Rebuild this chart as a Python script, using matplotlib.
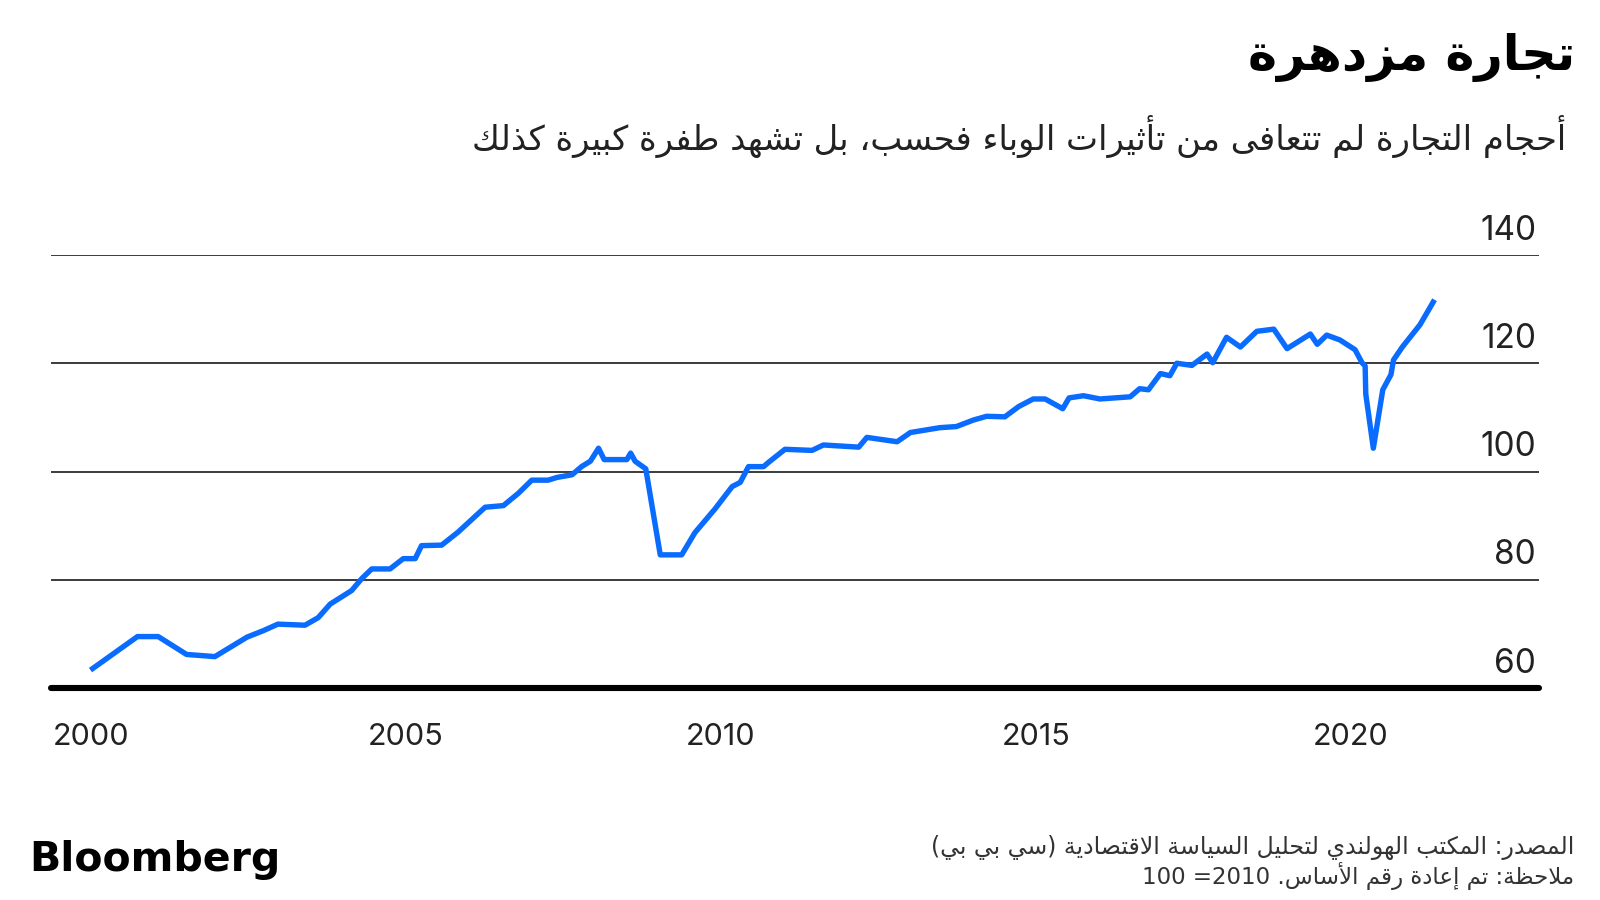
import matplotlib
matplotlib.use('Agg')
import matplotlib.pyplot as plt

# world trade volume index (2010 = 100), decimal years
years = [2000.03, 2000.74, 2001.07, 2001.52, 2001.97, 2002.48, 2002.74, 2002.97,
         2003.40, 2003.61, 2003.80, 2004.14, 2004.30, 2004.46, 2004.75, 2004.96,
         2005.15, 2005.25, 2005.57, 2005.83, 2006.26, 2006.55, 2006.79, 2007.00,
         2007.26, 2007.40, 2007.64, 2007.79, 2007.93, 2008.06, 2008.15, 2008.51,
         2008.57, 2008.64, 2008.81, 2009.04, 2009.38, 2009.59, 2009.91, 2010.18,
         2010.31, 2010.44, 2010.68, 2010.76, 2011.02, 2011.45, 2011.63, 2012.19,
         2012.32, 2012.80, 2013.01, 2013.48, 2013.74, 2014.01, 2014.22, 2014.51,
         2014.73, 2014.96, 2015.15, 2015.43, 2015.53, 2015.76, 2016.02, 2016.50,
         2016.65, 2016.79, 2016.98, 2017.13, 2017.24, 2017.48, 2017.72, 2017.81,
         2018.03, 2018.25, 2018.51, 2018.78, 2018.99, 2019.36, 2019.47, 2019.62,
         2019.83, 2020.07, 2020.18, 2020.23, 2020.24, 2020.36, 2020.51, 2020.64,
         2020.68, 2020.82, 2021.10, 2021.31]
values = [63.6, 69.5, 69.5, 66.2, 65.8, 69.4, 70.6, 71.8,
          71.6, 73.0, 75.5, 78.0, 80.2, 82.0, 82.0, 83.9,
          83.9, 86.3, 86.4, 88.8, 93.4, 93.7, 96.0, 98.4,
          98.4, 98.9, 99.4, 100.9, 101.9, 104.3, 102.2, 102.2,
          103.4, 101.9, 100.5, 84.6, 84.6, 88.7, 93.1, 97.2,
          98.0, 100.9, 100.9, 101.7, 104.1, 103.9, 104.9, 104.5,
          106.3, 105.5, 107.2, 108.1, 108.3, 109.5, 110.2, 110.1,
          112.0, 113.4, 113.4, 111.6, 113.6, 114.0, 113.4, 113.8,
          115.3, 115.1, 118.1, 117.7, 120.0, 119.6, 121.7, 120.1,
          124.8, 123.0, 125.9, 126.3, 122.7, 125.4, 123.5, 125.2,
          124.3, 122.5, 120.1, 119.5, 114.3, 104.3, 115.1, 117.9,
          120.6, 123.0, 127.1, 131.3]

x_ticks = [2000, 2005, 2010, 2015, 2020]
y_ticks = [60, 80, 100, 120, 140]

title = 'تجارة مزدهرة'
subtitle = 'أحجام التجارة لم تتعافى من تأثيرات الوباء فحسب، بل تشهد طفرة كبيرة كذلك'
source = 'المصدر: المكتب الهولندي لتحليل السياسة الاقتصادية (سي بي بي)'
note = 'ملاحظة: تم إعادة رقم الأساس. 2010= 100'

# matplotlib does no Arabic shaping, so map letters to presentation forms by hand
# base = isolated form; final +1, initial +2, medial +3
dual = {'ئ': 0xFE89, 'ب': 0xFE8F, 'ت': 0xFE95, 'ث': 0xFE99, 'ج': 0xFE9D,
        'ح': 0xFEA1, 'خ': 0xFEA5, 'س': 0xFEB1, 'ش': 0xFEB5, 'ص': 0xFEB9,
        'ض': 0xFEBD, 'ط': 0xFEC1, 'ظ': 0xFEC5, 'ع': 0xFEC9, 'غ': 0xFECD,
        'ف': 0xFED1, 'ق': 0xFED5, 'ك': 0xFED9, 'ل': 0xFEDD, 'م': 0xFEE1,
        'ن': 0xFEE5, 'ه': 0xFEE9, 'ي': 0xFEF1}
right = {'آ': 0xFE81, 'أ': 0xFE83, 'ؤ': 0xFE85, 'إ': 0xFE87, 'ا': 0xFE8D,
         'ة': 0xFE93, 'د': 0xFEA9, 'ذ': 0xFEAB, 'ر': 0xFEAD, 'ز': 0xFEAF,
         'و': 0xFEED, 'ى': 0xFEEF}
lam_alef = {'آ': 0xFEF5, 'أ': 0xFEF7, 'إ': 0xFEF9, 'ا': 0xFEFB}


def shape(text):
    out = []
    i = 0
    while i < len(text):
        c = text[i]
        joins_prev = i > 0 and text[i - 1] in dual
        nxt = text[i + 1] if i + 1 < len(text) else ''
        if c == 'ل' and nxt in lam_alef:
            out.append(chr(lam_alef[nxt] + joins_prev))
            i += 2
            continue
        if c in dual:
            joins_next = nxt in dual or nxt in right
            out.append(chr(dual[c] + joins_prev + 2 * joins_next))
        elif c in right:
            out.append(chr(right[c] + joins_prev))
        elif c == 'ء':
            out.append('\uFE80')
        else:
            out.append(c)
        i += 1
    return out


def rtl(text):
    runs = []
    for ch in shape(text):
        if ch.isascii() and ch.isalnum():
            if runs and runs[-1][0]:
                runs[-1][1] += ch
            else:
                runs.append([True, ch])
        else:
            runs.append([False, {'(': ')', ')': '('}.get(ch, ch)])
    return ''.join(r[1] for r in reversed(runs))


W, H = 1600, 900
fig = plt.figure(figsize=(16, 9), dpi=100)
ax = fig.add_axes([51 / W, 1 - 688 / H, (1539 - 51) / W, (688 - 255) / H])
ax.set_xlim(1999.368, 2022.99)
ax.set_ylim(60, 140)
for s in ax.spines.values():
    s.set_visible(False)

for v in y_ticks[1:]:
    ax.axhline(v, color='#1a1a1a', lw=1.2, zorder=1)
ax.axhline(60, color='black', lw=4.4, solid_capstyle='round', clip_on=False, zorder=3)

ax.plot(years, values, color='#0a6cff', lw=3.9, zorder=2, clip_on=False)

ax.set_xticks(x_ticks)
ax.set_xticklabels([str(y) for y in x_ticks], fontsize=22, color='#222222',
                   family=['Inter', 'DejaVu Sans'])
ax.tick_params(axis='x', length=0, pad=25)
ax.set_yticks([])

for v in y_ticks:
    ax.annotate(str(v), xy=(1, v), xycoords=('axes fraction', 'data'),
                xytext=(-2, 11), textcoords='offset points',
                ha='right', va='baseline', fontsize=24, color='#222222',
                family=['Inter', 'DejaVu Sans'])

fig.text(1575 / W, 1 - 58 / H, rtl(title), ha='right', va='center',
         fontsize=35.5, fontweight='bold', color='black', family=['DejaVu Sans'])
fig.text(1566 / W, 1 - 136 / H, rtl(subtitle), ha='right', va='center',
         fontsize=24.4, color='#222222', family=['DejaVu Sans'])
fig.text(1574 / W, 1 - 847 / H, rtl(source), ha='right', va='center',
         fontsize=17, color='#333333', family=['DejaVu Sans'])
fig.text(1574 / W, 1 - 876 / H, rtl(note), ha='right', va='center',
         fontsize=16.5, color='#333333', family=['DejaVu Sans'])
fig.text(29 / W, 1 - 860 / H, 'Bloomberg', ha='left', va='center',
         fontsize=29.5, fontweight='bold', color='black', family=['DejaVu Sans'])

fig.savefig('out.png', dpi=100, facecolor='white')
